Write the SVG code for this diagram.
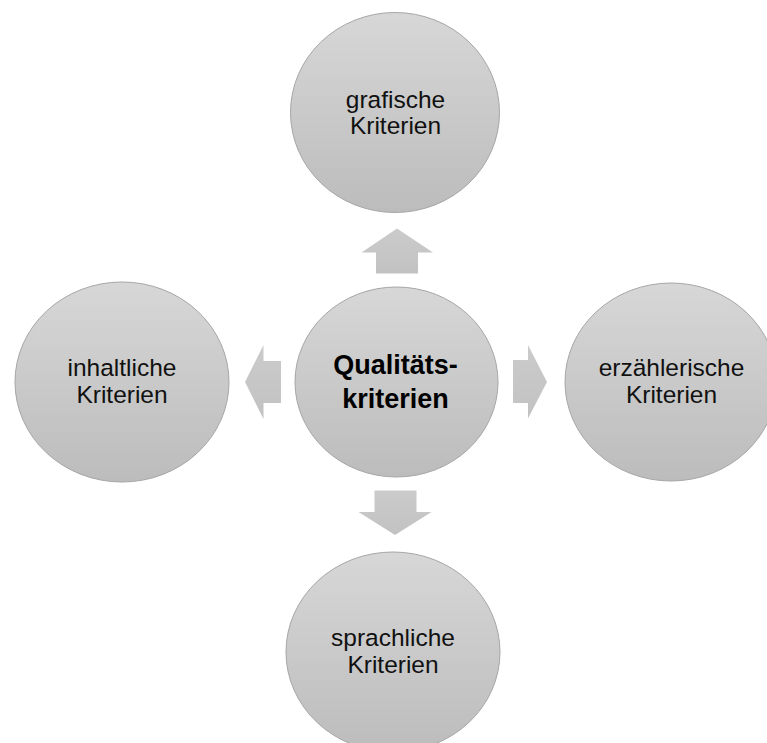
<svg xmlns="http://www.w3.org/2000/svg" width="767" height="743" viewBox="0 0 767 743">
<defs>
<linearGradient id="g" x1="0" y1="0" x2="0" y2="1">
<stop offset="0" stop-color="#d7d7d7"/>
<stop offset="1" stop-color="#bcbcbc"/>
</linearGradient>
<linearGradient id="ga" x1="0" y1="0" x2="0" y2="1">
<stop offset="0" stop-color="#cbcbcb"/>
<stop offset="1" stop-color="#c2c2c2"/>
</linearGradient>
<style>
.n{fill:url(#g);stroke:#a6a6a6;stroke-width:1}
.a{fill:url(#ga);stroke:none}
.t{font-family:"Liberation Sans",Arial,sans-serif;font-size:24.5px;fill:#111;text-anchor:middle}
.b{font-family:"Liberation Sans",Arial,sans-serif;font-size:27px;font-weight:bold;fill:#000;text-anchor:middle}
</style>
</defs>
<rect width="767" height="743" fill="#ffffff"/>
<g id="connectors">
<polygon class="a" points="397,228.5 433,252.5 418,252.5 418,273.5 376,273.5 376,252.5 361.5,252.5"/>
<polygon class="a" points="245,382 263.5,345 263.5,361 281,361 281,403 263.5,403 263.5,419"/>
<polygon class="a" points="547,382 528,345 528,360 513,360 513,403 528,403 528,418.5"/>
<polygon class="a" points="395,535 358.5,512 374.5,512 374.5,490.5 416.5,490.5 416.5,512 431.5,512"/>
</g>
<g id="n-top">
<ellipse class="n" cx="395" cy="112.5" rx="104.5" ry="100"/>
<text class="t" x="395.5" y="108">grafische</text>
<text class="t" x="395.5" y="134">Kriterien</text>
</g>
<g id="n-left">
<ellipse class="n" cx="122" cy="382" rx="107" ry="100"/>
<text class="t" x="122" y="376">inhaltliche</text>
<text class="t" x="122" y="403">Kriterien</text>
</g>
<g id="n-right">
<ellipse class="n" cx="671" cy="382" rx="106" ry="99"/>
<text class="t" x="671.5" y="376">erzählerische</text>
<text class="t" x="671.5" y="403">Kriterien</text>
</g>
<g id="n-bottom">
<ellipse class="n" cx="393" cy="652" rx="107" ry="100"/>
<text class="t" x="393" y="646">sprachliche</text>
<text class="t" x="393" y="673">Kriterien</text>
</g>
<g id="n-center">
<ellipse class="n" cx="396.5" cy="382" rx="101.5" ry="95"/>
<text class="b" x="395.5" y="373.5">Qualitäts-</text>
<text class="b" x="395.5" y="408">kriterien</text>
</g>
</svg>
